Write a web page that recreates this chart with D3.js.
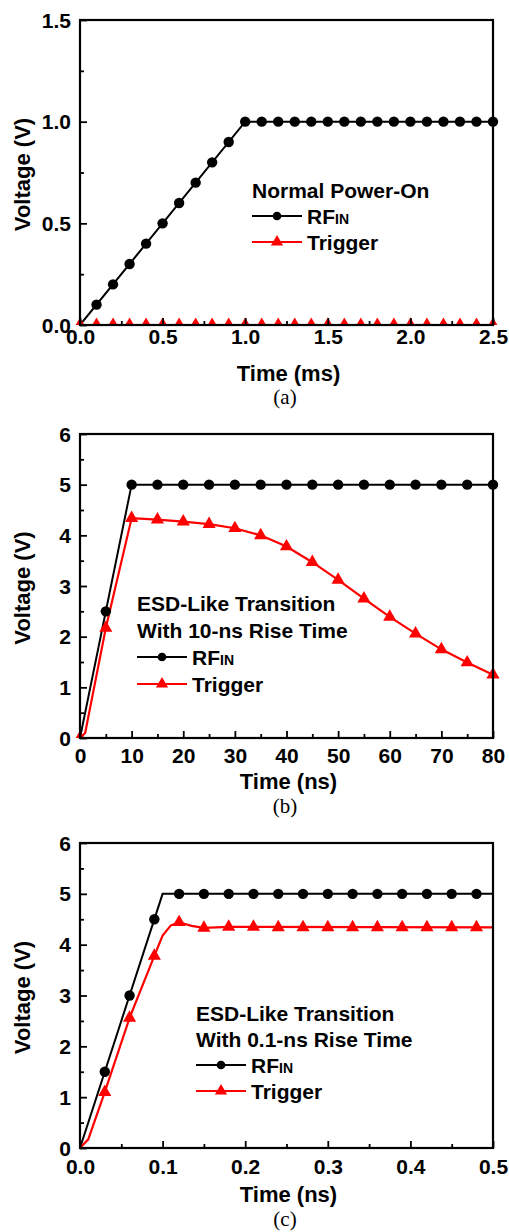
<!DOCTYPE html>
<html><head><meta charset="utf-8">
<script src="https://cdn.jsdelivr.net/npm/d3@7"></script>
<style>body{margin:0;background:#fff}text{font-family:"Liberation Sans",Arial,sans-serif;font-weight:bold;fill:#000}</style>
</head><body>
<svg id="chart" width="509" height="1232"></svg>
<script>
// ---------- Panel (a): Normal Power-On, time in ms ----------
const aRfinLineX = [0, 1.0, 2.5];
const aRfinLineY = [0, 1.0, 1.0];
const aRfinMarkX = [0.1,0.2,0.3,0.4,0.5,0.6,0.7,0.8,0.9,1.0,1.1,1.2,1.3,1.4,1.5,1.6,1.7,1.8,1.9,2.0,2.1,2.2,2.3,2.4,2.5];
const aRfinMarkY = [0.1,0.2,0.3,0.4,0.5,0.6,0.7,0.8,0.9,1,1,1,1,1,1,1,1,1,1,1,1,1,1,1,1];
const aTrigLineX = [0, 2.5];
const aTrigLineY = [0, 0];
const aTrigMarkX = [0,0.1,0.2,0.3,0.4,0.5,0.6,0.7,0.8,0.9,1.0,1.1,1.2,1.3,1.4,1.5,1.6,1.7,1.8,1.9,2.0,2.1,2.2,2.3,2.4,2.5];
const aTrigMarkY = [0,0,0,0,0,0,0,0,0,0,0,0,0,0,0,0,0,0,0,0,0,0,0,0,0,0];
const aXTicks = [0, 0.5, 1.0, 1.5, 2.0, 2.5];
const aXTickLabels = ["0.0","0.5","1.0","1.5","2.0","2.5"];
const aXMinor = [0.25, 0.75, 1.25, 1.75, 2.25];
const aYTicks = [0, 0.5, 1.0, 1.5];
const aYTickLabels = ["0.0","0.5","1.0","1.5"];
const aYMinor = [0.25, 0.75, 1.25];
const aLegend = ["Normal Power-On"];

// ---------- Panel (b): 10-ns rise time ----------
const bRfinLineX = [0, 10, 80];
const bRfinLineY = [0, 5, 5];
const bRfinMarkX = [5,10,15,20,25,30,35,40,45,50,55,60,65,70,75,80];
const bRfinMarkY = [2.5,5,5,5,5,5,5,5,5,5,5,5,5,5,5,5];
const bTrigLineX = [0, 1, 5, 10, 15, 20, 25, 30, 35, 40, 45, 50, 55, 60, 65, 70, 75, 80];
const bTrigLineY = [0, 0.1, 2.17, 4.34, 4.31, 4.27, 4.22, 4.14, 4.00, 3.78, 3.47, 3.12, 2.75, 2.39, 2.06, 1.75, 1.49, 1.25];
const bTrigMarkX = [0, 5, 10, 15, 20, 25, 30, 35, 40, 45, 50, 55, 60, 65, 70, 75, 80];
const bTrigMarkY = [0, 2.17, 4.34, 4.31, 4.27, 4.22, 4.14, 4.00, 3.78, 3.47, 3.12, 2.75, 2.39, 2.06, 1.75, 1.49, 1.25];
const bXTicks = [0,10,20,30,40,50,60,70,80];
const bXTickLabels = ["0","10","20","30","40","50","60","70","80"];
const bXMinor = [5,15,25,35,45,55,65,75];
const bYTicks = [0,1,2,3,4,5,6];
const bYTickLabels = ["0","1","2","3","4","5","6"];
const bYMinor = [0.5,1.5,2.5,3.5,4.5,5.5];
const bLegend = ["ESD-Like Transition", "With 10-ns Rise Time"];

// ---------- Panel (c): 0.1-ns rise time ----------
const cRfinLineX = [0, 0.1, 0.5];
const cRfinLineY = [0, 5, 5];
const cRfinMarkX = [0.03,0.06,0.09,0.12,0.15,0.18,0.21,0.24,0.27,0.30,0.33,0.36,0.39,0.42,0.45,0.48];
const cRfinMarkY = [1.5,3.0,4.5,5,5,5,5,5,5,5,5,5,5,5,5,5];
const cTrigLineX = [0, 0.01, 0.03, 0.06, 0.09, 0.10, 0.11, 0.12, 0.135, 0.15, 0.18, 0.5];
const cTrigLineY = [0, 0.17, 1.10, 2.56, 3.78, 4.18, 4.38, 4.44, 4.37, 4.33, 4.35, 4.34];
const cTrigMarkX = [0.03,0.06,0.09,0.12,0.15,0.18,0.21,0.24,0.27,0.30,0.33,0.36,0.39,0.42,0.45,0.48];
const cTrigMarkY = [1.10,2.56,3.78,4.44,4.33,4.35,4.35,4.34,4.34,4.34,4.34,4.34,4.34,4.34,4.34,4.34];
const cXTicks = [0,0.1,0.2,0.3,0.4,0.5];
const cXTickLabels = ["0.0","0.1","0.2","0.3","0.4","0.5"];
const cXMinor = [0.05,0.15,0.25,0.35,0.45];
const cYTicks = [0,1,2,3,4,5,6];
const cYTickLabels = ["0","1","2","3","4","5","6"];
const cYMinor = [0.5,1.5,2.5,3.5,4.5,5.5];
const cLegend = ["ESD-Like Transition", "With 0.1-ns Rise Time"];

const seriesNames = ["RF", "Trigger"];
const seriesSub = "IN";
const yTitle = "Voltage (V)";

const zip = (xs, ys) => xs.map((x, i) => [x, ys[i]]);

const panels = [
  { xDom:[0,2.5], yDom:[0,1.5], top:20, bottom:325,
    rfinLine: zip(aRfinLineX,aRfinLineY), rfinMark: zip(aRfinMarkX,aRfinMarkY),
    trigLine: zip(aTrigLineX,aTrigLineY), trigMark: zip(aTrigMarkX,aTrigMarkY),
    xt:aXTicks, xl:aXTickLabels, xm:aXMinor, yt:aYTicks, yl:aYTickLabels, ym:aYMinor,
    xTitle:"Time (ms)", letter:"(a)", legend:aLegend,
    legX:252, legY:190, legStep:26, xLabBase:344, xTitleBase:381, letterBase:404 },
  { xDom:[0,80], yDom:[0,6], top:434, bottom:738,
    rfinLine: zip(bRfinLineX,bRfinLineY), rfinMark: zip(bRfinMarkX,bRfinMarkY),
    trigLine: zip(bTrigLineX,bTrigLineY), trigMark: zip(bTrigMarkX,bTrigMarkY),
    xt:bXTicks, xl:bXTickLabels, xm:bXMinor, yt:bYTicks, yl:bYTickLabels, ym:bYMinor,
    xTitle:"Time (ns)", letter:"(b)", legend:bLegend,
    legX:137, legY:603, legStep:27, xLabBase:763, xTitleBase:789, letterBase:813 },
  { xDom:[0,0.5], yDom:[0,6], top:843, bottom:1148,
    rfinLine: zip(cRfinLineX,cRfinLineY), rfinMark: zip(cRfinMarkX,cRfinMarkY),
    trigLine: zip(cTrigLineX,cTrigLineY), trigMark: zip(cTrigMarkX,cTrigMarkY),
    xt:cXTicks, xl:cXTickLabels, xm:cXMinor, yt:cYTicks, yl:cYTickLabels, ym:cYMinor,
    xTitle:"Time (ns)", letter:"(c)", legend:cLegend,
    legX:196, legY:1013, legStep:26, xLabBase:1174, xTitleBase:1202, letterBase:1226 }
];

const svg = d3.select("#chart");
const L = 80, R = 493;
const RED = "#ff0000";
const FS = "21px";
const circ = d3.symbol().type(d3.symbolCircle).size(85);
const tri = d3.symbol().type(d3.symbolTriangle).size(75);
const circLeg = d3.symbol().type(d3.symbolCircle).size(60);
const triLeg = d3.symbol().type(d3.symbolTriangle).size(65);

panels.forEach((p, pi) => {
  const x = d3.scaleLinear().domain(p.xDom).range([L, R]);
  const y = d3.scaleLinear().domain(p.yDom).range([p.bottom, p.top]);
  const g = svg.append("g");
  const h = p.bottom - p.top;

  const clipId = "clip" + pi;
  svg.append("clipPath").attr("id", clipId).append("rect")
    .attr("x", L - 20).attr("y", p.top - 20).attr("width", R - L + 40).attr("height", h + 20);

  const line = d3.line().x(d => x(d[0])).y(d => y(d[1]));
  const dg = g.append("g").attr("clip-path", `url(#${clipId})`);
  dg.append("path").datum(p.rfinLine).attr("d", line).attr("fill","none").attr("stroke","#000").attr("stroke-width",2);
  dg.append("path").datum(p.trigLine).attr("d", line).attr("fill","none").attr("stroke",RED).attr("stroke-width",2.2);
  dg.selectAll(".cm").data(p.rfinMark).enter().append("path")
    .attr("d", circ).attr("transform", d => `translate(${x(d[0])},${y(d[1])})`).attr("fill","#000");
  dg.selectAll(".tm").data(p.trigMark).enter().append("path")
    .attr("d", tri).attr("transform", d => `translate(${x(d[0])},${y(d[1])})`).attr("fill",RED);

  // axes: ticks pointing inward
  const fmtX = d => p.xl[p.xt.indexOf(d)];
  const fmtY = d => p.yl[p.yt.indexOf(d)];
  const xa = g.append("g").attr("transform", `translate(0,${p.bottom})`)
    .call(d3.axisBottom(x).tickValues(p.xt).tickFormat(fmtX).tickSizeInner(-7).tickSizeOuter(0).tickPadding(0));
  xa.selectAll("text").attr("dy", null).attr("y", p.xLabBase - p.bottom).style("font-size",FS);
  const xm = g.append("g").attr("transform", `translate(0,${p.bottom})`)
    .call(d3.axisBottom(x).tickValues(p.xm).tickFormat("").tickSizeInner(-4).tickSizeOuter(0));
  const ya = g.append("g").attr("transform", `translate(${L},0)`)
    .call(d3.axisLeft(y).tickValues(p.yt).tickFormat(fmtY).tickSizeInner(-7).tickSizeOuter(0).tickPadding(9));
  ya.selectAll("text").attr("dy","0.34em").style("font-size",FS);
  const ym = g.append("g").attr("transform", `translate(${L},0)`)
    .call(d3.axisLeft(y).tickValues(p.ym).tickFormat("").tickSizeInner(-4).tickSizeOuter(0));
  [xa, xm, ya, ym].forEach(a => {
    a.select(".domain").remove();
    a.selectAll("line").attr("stroke","#000").attr("stroke-width",1.8);
    a.selectAll("text").attr("font-family",null);
  });
  // frame
  g.append("rect").attr("x", L).attr("y", p.top).attr("width", R - L).attr("height", h)
    .attr("fill","none").attr("stroke","#000").attr("stroke-width",2.2);

  // titles
  g.append("text").attr("x", (L + R) / 2 + 2).attr("y", p.xTitleBase).attr("text-anchor","middle")
    .style("font-size","22px").text(p.xTitle);
  g.append("text").attr("transform", `translate(30,${(p.top + p.bottom) / 2 + 2}) rotate(-90)`)
    .attr("text-anchor","middle").style("font-size","22px").text(yTitle);
  g.append("text").attr("x", 285).attr("y", p.letterBase).attr("text-anchor","middle")
    .style("font-family","'Liberation Serif','Times New Roman',serif").style("font-weight","normal")
    .style("font-size","21px").text(p.letter);

  // legend
  let ly = p.legY;
  p.legend.forEach(t => {
    g.append("text").attr("x", p.legX).attr("y", ly).attr("dy","0.36em").style("font-size",FS).text(t);
    ly += p.legStep;
  });
  const entries = [{c:"#000", sym:circLeg}, {c:RED, sym:triLeg}];
  entries.forEach((e, i) => {
    const yy = ly + i * p.legStep;
    g.append("line").attr("x1", p.legX).attr("x2", p.legX + 50).attr("y1", yy).attr("y2", yy)
      .attr("stroke", e.c).attr("stroke-width", 2.2);
    g.append("path").attr("d", e.sym).attr("transform", `translate(${p.legX + 25},${yy})`).attr("fill", e.c);
    const t = g.append("text").attr("x", p.legX + 55).attr("y", yy).attr("dy","0.36em").style("font-size",FS);
    t.append("tspan").text(seriesNames[i]);
    if (i === 0) t.append("tspan").style("font-size","14px").text(seriesSub);
  });
});
</script>
</body></html>
